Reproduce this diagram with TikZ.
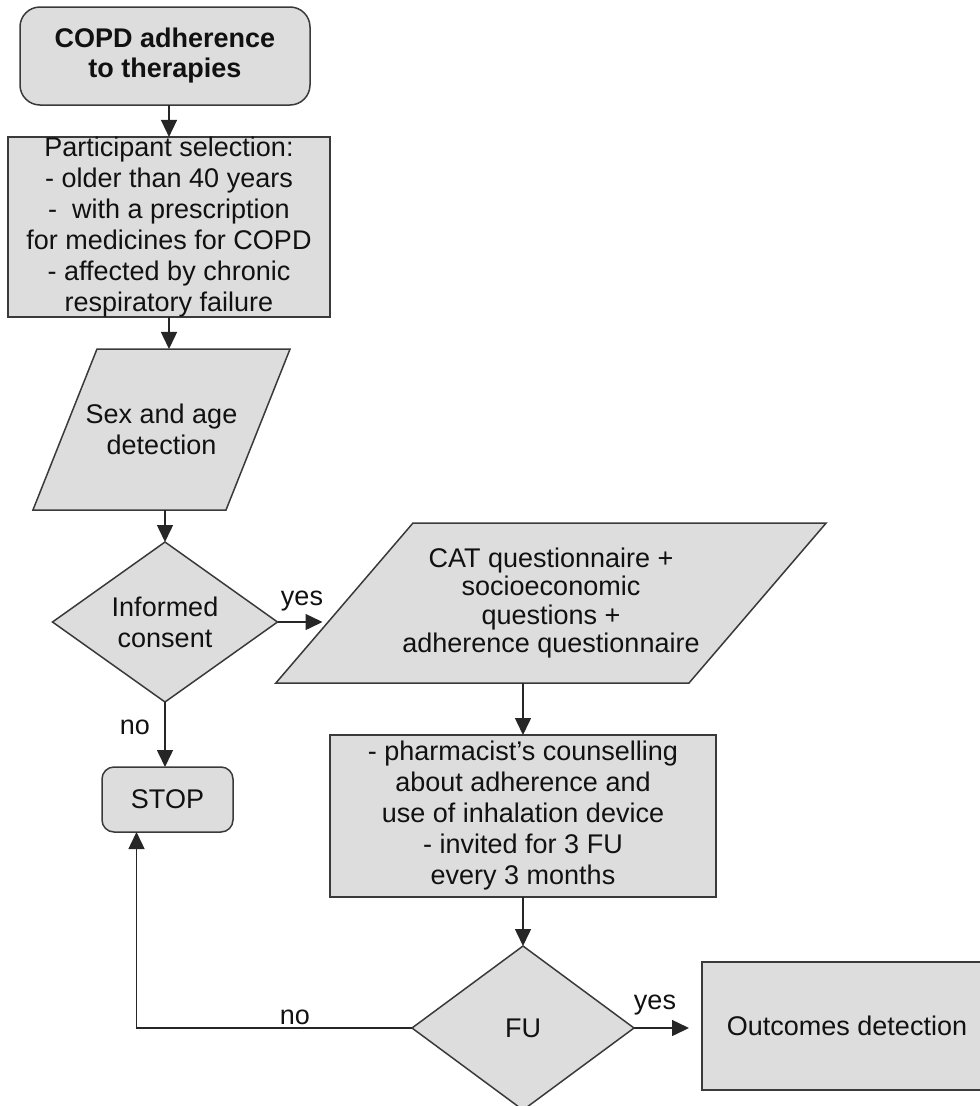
\documentclass[tikz,border=0pt]{standalone}
\usepackage{fontspec}
\setmainfont{Liberation Sans}
\usetikzlibrary{arrows.meta,shapes.geometric}
\definecolor{boxfill}{HTML}{DDDDDD}
\definecolor{edgecol}{HTML}{3A3A3A}
\definecolor{txtcol}{HTML}{111111}
\begin{document}
\begin{tikzpicture}[x=1pt,y=-1pt,
  base/.style={draw=edgecol, fill=boxfill, line width=1.5pt, inner sep=0pt, outer sep=0pt,
    align=center, font=\fontsize{27}{31}\selectfont, text=txtcol},
  boxr/.style={base, rectangle},
  rbox/.style={base, rectangle, rounded corners=#1},
  rbox/.default=20pt,
  dec/.style={base, diamond},
  iobox/.style={base, trapezium},
  arr/.style={draw=black!85, line width=1.5pt, -{Triangle[length=17pt,width=16pt]}},
  lbl/.style={font=\fontsize{27}{30}\selectfont, inner sep=0pt, text=txtcol}
]
\clip (0,0) rectangle (980,1106);

\node[rbox, minimum width=290pt, minimum height=98pt, font=\bfseries\fontsize{27}{30}\selectfont] (title) at (165,56) {COPD adherence\\to therapies};

\node[boxr, minimum width=322pt, minimum height=180pt] (part) at (169,227)
  {Participant selection:\\- older than 40 years\\-\ \ with a prescription\\for medicines for COPD\\- affected by chronic\\respiratory failure};

\node[iobox, trapezium left angle=68.3, trapezium right angle=111.7] (sex) at (161.5,429.5)
  {\begin{minipage}[c][161pt][c]{129pt}\centering
   \makebox[\linewidth]{Sex and age}\\\makebox[\linewidth]{detection}\end{minipage}};

\node[dec, minimum width=225pt, minimum height=160pt] (ic) at (165,622) {Informed\\consent};

\node[iobox, trapezium left angle=49.4, trapezium right angle=130.6] (cat) at (551,603)
  {\begin{minipage}[c][160pt][c]{276pt}\centering\fontsize{27}{28.5}\selectfont
   \makebox[\linewidth]{CAT questionnaire +}\\\makebox[\linewidth]{socioeconomic}\\
   \makebox[\linewidth]{questions +}\\\makebox[\linewidth]{adherence questionnaire}\end{minipage}};

\node[rbox=12pt, minimum width=131pt, minimum height=65pt] (stop) at (167.5,799.5) {STOP};

\node[boxr, minimum width=386pt, minimum height=162pt] (ph) at (523,816)
  {- pharmacist’s counselling\\about adherence and\\use of inhalation device\\- invited for 3 FU\\every 3 months};

\node[dec, minimum width=222pt, minimum height=164pt] (fu) at (523,1028) {FU};

\node[boxr, minimum width=290pt, minimum height=128pt] (out) at (847,1026) {Outcomes detection};

\node[lbl] (yes1) at (302,601) {yes};
\node[lbl] (no1) at (135,727) {no};
\node[lbl] (no2) at (295,1017) {no};
\node[lbl] (yes2) at (655,1005) {yes};

\draw[arr] (part.north |- title.south) -- (part.north);
\draw[arr] (part.south) -- (part.south |- sex.north);
\draw[arr] (ic.north |- sex.south) -- (ic.north);
\draw[arr] (ic.east) -- ([xshift=45pt]ic.east);
\draw[arr] (ic.south) -- (ic.south |- stop.north);
\draw[arr] (ph.north |- cat.south) -- (ph.north);
\draw[arr] (ph.south) -- (fu.north);
\draw[arr] (fu.east) -- ([xshift=55pt]fu.east);
\draw[arr] (fu.west) -| ([xshift=-31pt]stop.south);
\end{tikzpicture}
\end{document}
